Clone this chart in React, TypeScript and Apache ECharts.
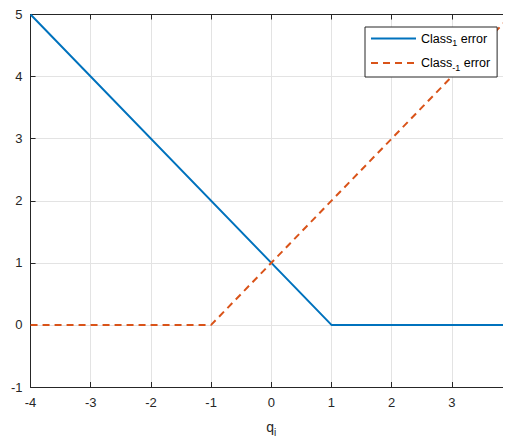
import React, { useEffect, useRef } from "react";
import * as echarts from "echarts";

const blueName = "Class1";
const orangeName = "Class-1";
const blueData: [number, number][] = [[-4, 5], [1, 0], [4, 0]];
const orangeData: [number, number][] = [[-4, 0], [-1, 0], [4, 5]];
const xMin = -4, xMax = 4, yMin = -1, yMax = 5;

export default function App() {
  const ref = useRef<HTMLDivElement>(null);
  useEffect(() => {
    const chart = echarts.init(ref.current!, null, { renderer: "svg" });
    const font = "Liberation Sans, Arial, Helvetica, sans-serif";
    const axisColor = "#262626";
    const gridColor = "#e3e3e3";
    chart.setOption({
      animation: false,
      textStyle: { fontFamily: font },
      grid: { left: 22, top: 3, width: 482, height: 378 },
      legend: {
        left: 357,
        top: 19,
        orient: "vertical",
        backgroundColor: "#fff",
        borderColor: axisColor,
        borderWidth: 1,
        borderRadius: 0,
        padding: [5, 7, 5, 5],
        itemWidth: 45,
        itemHeight: 14,
        itemGap: 9,
        itemStyle: { opacity: 0 },
        data: [blueName, orangeName],
        formatter: (name: string) =>
          name === blueName
            ? "{a|Class}{s|1}{a| error}"
            : "{a|Class}{s|-1}{a| error}",
        textStyle: {
          color: "#000",
          rich: {
            a: { fontSize: 12.5, fontFamily: font, color: "#000" },
            s: { fontSize: 9, fontFamily: font, color: "#000", padding: [9, 0, 0, 0] },
          },
        },
      },
      xAxis: [
        {
          type: "value",
          min: xMin,
          max: xMax,
          interval: 1,
          name: "{q|q}{i|i}",
          nameLocation: "middle",
          nameGap: 30,
          nameTextStyle: {
            rich: {
              q: { fontSize: 14, fontFamily: font, color: "#262626" },
              i: { fontSize: 10, fontFamily: font, color: "#262626", padding: [10, 0, 0, 0] },
            },
          },
          axisLine: { onZero: false, lineStyle: { color: axisColor, width: 1 } },
          axisTick: { inside: true, length: 5, lineStyle: { color: axisColor } },
          axisLabel: { color: "#262626", fontSize: 13, margin: 9, fontFamily: font },
          splitLine: { show: true, lineStyle: { color: gridColor, width: 1 } },
        },
        {
          type: "value",
          position: "top",
          min: xMin,
          max: xMax,
          interval: 1,
          axisLine: { onZero: false, lineStyle: { color: axisColor, width: 1 } },
          axisTick: { inside: true, length: 5, lineStyle: { color: axisColor } },
          axisLabel: { show: false },
          splitLine: { show: false },
        },
      ],
      yAxis: [
        {
          type: "value",
          min: yMin,
          max: yMax,
          interval: 1,
          axisLine: { onZero: false, show: true, lineStyle: { color: axisColor, width: 1 } },
          axisTick: { show: true, inside: true, length: 5, lineStyle: { color: axisColor } },
          axisLabel: { color: "#262626", fontSize: 13, margin: 8, fontFamily: font },
          splitLine: { show: true, lineStyle: { color: gridColor, width: 1 } },
        },
        {
          type: "value",
          position: "right",
          min: yMin,
          max: yMax,
          interval: 1,
          axisLine: { onZero: false, show: true, lineStyle: { color: axisColor, width: 1 } },
          axisTick: { show: true, inside: true, length: 5, lineStyle: { color: axisColor } },
          axisLabel: { show: false },
          splitLine: { show: false },
        },
      ],
      series: [
        {
          name: blueName,
          type: "line",
          data: blueData,
          symbol: "none",
          lineStyle: { color: "#0072BD", width: 2 },
          itemStyle: { color: "#0072BD" },
        },
        {
          name: orangeName,
          type: "line",
          data: orangeData,
          symbol: "none",
          lineStyle: { color: "#D95319", width: 2, type: [7, 5] },
          itemStyle: { color: "#D95319" },
        },
      ],
    });
    return () => chart.dispose();
  }, []);
  return (
    <div style={{ width: 503, height: 434, overflow: "hidden" }}>
      <div ref={ref} style={{ width: 530, height: 434 }} />
    </div>
  );
}
